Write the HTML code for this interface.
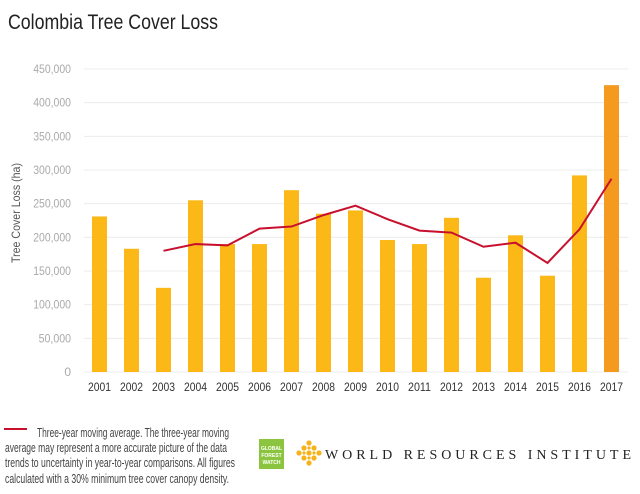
<!DOCTYPE html>
<html><head><meta charset="utf-8"><style>
body{margin:0;background:#fff;font-family:"Liberation Sans",sans-serif;}
#wrap{position:relative;width:640px;height:494px;overflow:hidden;}
</style></head><body>
<div id="wrap">
<svg id="chart" width="640" height="494">
<text x="8" y="29" font-size="21" fill="#222" textLength="210" lengthAdjust="spacingAndGlyphs">Colombia Tree Cover Loss</text>
<text transform="translate(20,213) rotate(-90)" text-anchor="middle" font-size="12" fill="#555" textLength="100" lengthAdjust="spacingAndGlyphs">Tree Cover Loss (ha)</text>
<g id="grid"></g><g id="bars"></g><g id="line"></g><g id="xlabels"></g>
<line x1="4" y1="429" x2="27" y2="429" stroke="#c8102e" stroke-width="2"/>
<g font-size="13" fill="#444">
<text x="37" y="437" textLength="192" lengthAdjust="spacingAndGlyphs">Three-year moving average. The three-year moving</text>
<text x="5" y="452" textLength="222" lengthAdjust="spacingAndGlyphs">average may represent a more accurate picture of the data</text>
<text x="5" y="467" textLength="230" lengthAdjust="spacingAndGlyphs">trends to uncertainty in year-to-year comparisons. All figures</text>
<text x="5" y="483" textLength="224" lengthAdjust="spacingAndGlyphs">calculated with a 30% minimum tree cover canopy density.</text>
</g>
<g>
<rect x="259" y="439" width="25" height="30" fill="#8bc53f"/>
<text x="271.5" y="450" font-size="5" fill="#fff" text-anchor="middle" font-weight="bold">GLOBAL</text>
<text x="271.5" y="457" font-size="5" fill="#fff" text-anchor="middle" font-weight="bold">FOREST</text>
<text x="271.5" y="464" font-size="5" fill="#fff" text-anchor="middle" font-weight="bold">WATCH</text>
</g>
<g>
<g fill="#f5b21a">
<circle cx="299" cy="453" r="2.6"/><circle cx="304" cy="448" r="2.6"/><circle cx="304" cy="458" r="2.6"/><circle cx="309" cy="453" r="2.6"/><circle cx="309" cy="443" r="2.6"/><circle cx="309" cy="463" r="2.6"/><circle cx="314" cy="448" r="2.6"/><circle cx="314" cy="458" r="2.6"/><circle cx="319" cy="453" r="2.6"/>
<circle cx="304" cy="453" r="1.6"/><circle cx="314" cy="453" r="1.6"/><circle cx="309" cy="448" r="1.6"/><circle cx="309" cy="458" r="1.6"/>
</g>
<text x="325" y="459" font-size="14" fill="#222" font-family="Liberation Serif, serif" textLength="306" lengthAdjust="spacing">WORLD RESOURCES INSTITUTE</text>
</g>
</svg>
</div>
<script>
const years=["2001","2002","2003","2004","2005","2006","2007","2008","2009","2010","2011","2012","2013","2014","2015","2016","2017"];
const lossValues=[231000,183000,125000,255000,190000,190000,270000,235000,240000,196000,190000,229000,140000,203000,143000,292000,426000];
const movingAvg=[null,null,180000,190000,188000,213000,216000,233000,247000,227000,210000,207000,186000,192000,162000,212000,287000];
const yTicks=[0,50000,100000,150000,200000,250000,300000,350000,400000,450000];
const ns="http://www.w3.org/2000/svg";
const y0=372,yTop=69,yMax=450000;
function y(v){return y0-(v/yMax)*(y0-yTop);}
function x(i){return 99.5+i*32;}
function mk(t,a,p){const e=document.createElementNS(ns,t);for(const k in a)e.setAttribute(k,a[k]);p.appendChild(e);return e;}
const grid=document.getElementById('grid'),bars=document.getElementById('bars'),line=document.getElementById('line'),xl=document.getElementById('xlabels');
yTicks.forEach(v=>{
 const l=mk('line',{x1:84,x2:628,y1:y(v),y2:y(v),stroke:'#ececec','stroke-width':1},grid);
 
 
 const s=v.toLocaleString('en-US');
 const t=mk('text',{x:71,y:y(v)+4,'text-anchor':'end','font-size':12,fill:'#aaa'},grid);
 if(s.length>1){t.setAttribute('textLength',s.length*5.4);t.setAttribute('lengthAdjust','spacingAndGlyphs');}
 t.textContent=s;
 
 
});
years.forEach((yr,i)=>{
 const last=i===years.length-1;
 const r=mk('rect',{x:x(i)-7.5,y:y(lossValues[i]),width:15,height:y0-y(lossValues[i]),fill:last?'#f39a1f':'#fbb817'},bars);
 
 
 const t=mk('text',{x:x(i),y:391,'text-anchor':'middle','font-size':12,fill:'#333',textLength:23,lengthAdjust:'spacingAndGlyphs'},xl);
 t.textContent=yr;
 
 
});
const pts=[];movingAvg.forEach((v,i)=>{if(v!==null)pts.push(x(i)+','+y(v));});
const pl=mk('polyline',{points:pts.join(' '),fill:'none',stroke:'#c8102e','stroke-width':2},line);


</script>
</body></html>
